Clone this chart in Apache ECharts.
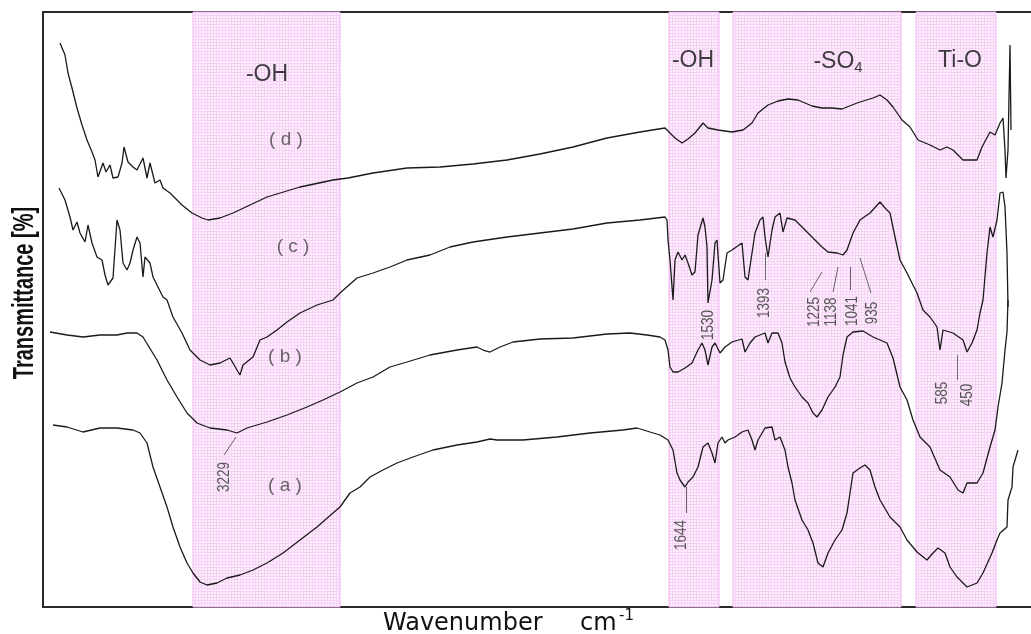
<!DOCTYPE html>
<html><head><meta charset="utf-8">
<script src="https://cdn.jsdelivr.net/npm/echarts@6/dist/echarts.min.js"></script>
<style>html,body{margin:0;padding:0;background:#fff}#c{width:1031px;height:634px}</style>
</head><body><div id="c"></div>
<script>
// x: position along the wavenumber axis (arbitrary units, high wavenumber at left); y: transmittance (a.u.)
const curveD = [[17,564],[22,552],[25,534],[29,519],[34,499],[39,482],[44,467],[49,455],[52,447],[55,430],[60,444],[63,435],[67,442],[70,429],[75,430],[79,444],[81,460],[85,445],[90,440],[94,437],[100,449],[104,429],[107,444],[112,424],[117,427],[120,419],[127,414],[132,409],[139,402],[149,394],[159,389],[165,387],[177,389],[190,394],[207,402],[224,410],[257,420],[290,427],[305,429],[330,434],[364,439],[397,440],[430,443],[464,447],[497,453],[530,460],[564,469],[597,475],[622,479],[627,474],[632,469],[639,464],[645,468],[652,474],[660,484],[665,479],[675,477],[689,475],[700,477],[709,484],[715,494],[725,502],[735,506],[745,508],[755,507],[762,504],[769,501],[779,499],[789,499],[799,498],[814,504],[830,509],[837,512],[844,507],[850,500],[859,487],[867,480],[875,467],[887,462],[897,457],[904,460],[910,457],[920,447],[934,447],[939,460],[947,475],[952,472],[957,484],[960,489],[962,457],[963,429],[965,457],[967,562],[968,477]];
const curveC = [[16,419],[22,407],[27,390],[30,377],[34,385],[37,374],[42,365],[45,382],[49,364],[54,350],[59,347],[62,332],[65,322],[70,329],[74,387],[77,377],[80,344],[84,337],[87,344],[90,357],[94,370],[97,364],[100,330],[102,350],[107,344],[110,330],[115,320],[120,310],[124,307],[130,290],[139,274],[147,257],[157,247],[167,242],[177,244],[187,249],[194,237],[197,232],[200,242],[210,250],[217,267],[224,270],[234,277],[244,285],[257,294],[274,302],[290,307],[297,314],[314,329],[330,334],[347,340],[364,347],[387,352],[407,360],[430,365],[464,370],[497,374],[530,378],[564,384],[597,387],[622,390],[624,387],[625,367],[627,347],[630,307],[632,347],[635,355],[639,347],[642,352],[645,344],[649,332],[652,335],[655,372],[660,389],[662,380],[664,360],[665,304],[669,327],[672,364],[674,367],[677,324],[680,327],[684,354],[689,357],[699,364],[702,330],[705,327],[709,354],[712,374],[717,387],[720,390],[722,370],[725,350],[729,377],[732,390],[737,394],[740,375],[744,389],[752,387],[759,380],[765,374],[772,367],[779,360],[785,355],[794,354],[800,352],[804,357],[810,374],[817,387],[827,394],[837,405],[842,399],[847,394],[852,370],[857,347],[864,334],[874,314],[880,297],[887,290],[894,280],[897,257],[900,277],[910,274],[920,267],[924,255],[929,264],[934,277],[937,294],[940,307],[944,354],[947,380],[950,370],[954,387],[957,414],[960,415],[962,400],[964,354],[965,300]];
const curveB = [[7,275],[24,272],[40,270],[57,272],[74,272],[84,274],[94,274],[100,270],[114,247],[124,227],[134,210],[144,194],[154,184],[167,179],[184,177],[194,174],[204,179],[224,185],[244,192],[264,200],[280,207],[297,215],[314,224],[330,230],[347,240],[364,245],[387,252],[414,257],[434,260],[440,257],[447,255],[457,260],[470,265],[497,268],[530,269],[564,273],[587,274],[604,272],[617,270],[622,267],[625,257],[627,240],[630,235],[635,235],[642,239],[649,244],[655,257],[659,264],[662,257],[665,242],[669,260],[672,264],[677,254],[682,260],[689,265],[699,268],[702,255],[707,264],[712,270],[722,274],[725,264],[729,274],[735,274],[739,264],[742,245],[747,229],[752,220],[759,210],[765,204],[770,194],[774,190],[779,197],[785,210],[792,220],[797,230],[800,252],[804,270],[810,275],[820,276],[830,270],[844,264],[850,249],[857,220],[864,207],[870,187],[877,170],[887,160],[897,137],[907,130],[915,117],[920,114],[924,124],[934,124],[940,134],[947,160],[952,177],[955,200],[959,224],[962,257],[964,275],[965,307]];
const curveA = [[10,182],[24,180],[40,175],[57,179],[74,179],[90,177],[97,174],[104,164],[110,140],[117,120],[124,100],[130,80],[137,60],[144,44],[150,34],[157,25],[164,22],[174,24],[184,29],[197,32],[210,37],[224,44],[240,54],[257,67],[274,80],[290,94],[297,100],[307,114],[317,120],[327,130],[340,137],[354,144],[370,150],[390,157],[414,162],[434,165],[447,168],[454,167],[480,167],[514,170],[547,174],[580,177],[594,179],[607,175],[617,172],[625,167],[630,157],[634,134],[637,127],[642,120],[645,125],[650,130],[655,140],[660,160],[665,164],[669,154],[672,144],[675,164],[679,170],[682,164],[685,167],[692,170],[699,175],[705,177],[709,167],[712,157],[715,167],[722,179],[729,180],[732,167],[737,170],[742,157],[745,140],[749,124],[752,107],[759,87],[765,77],[770,64],[775,44],[780,40],[785,54],[792,67],[799,77],[804,94],[810,134],[817,139],[822,142],[827,137],[832,120],[837,107],[847,90],[857,80],[864,67],[874,55],[884,47],[890,54],[895,59],[902,54],[907,40],[914,30],[924,20],[934,24],[940,34],[949,54],[954,67],[957,74],[964,80],[965,107],[969,120],[970,140],[975,157]];

const bandRanges = [[150,297],[626,676],[690,858],[873,953]];
const bandLabels = ['-OH','-OH','-SO{s|4}','Ti-O'];
const bandLabelPos = [[224,532],[650,546],[795,545],[917,546]];

const curveNames = ['( d )','( c )','( b )','( a )'];
const curveLabelPos = [[243,467],[250,360],[242,250],[242,121]];

const peakLabels = ['3229','1644','1530','1393','1225','1138','1041','935','585','450'];
const peakLabelPos = [[182,130],[639,72],[666,282],[722,304],[772,295],[789,295],[810,296],[830,294],[900,214],[925,212]];
const leaderLines = [[[193,170],[181,152]],[[643,120],[643,94]],[[722,354],[722,327]],[[779,335],[767,315]],[[795,340],[790,315]],[[807,340],[807,317]],[[817,349],[828,314]],[[914,252],[914,227]]];

function makePattern(){
  const cv=document.createElement('canvas'); cv.width=3; cv.height=3;
  const g=cv.getContext('2d');
  g.fillStyle='#fdf0fd'; g.fillRect(0,0,3,3);
  g.fillStyle='#f6d2f6'; g.fillRect(0,0,3,1); g.fillRect(0,0,1,3);
  return cv;
}

const chart = echarts.init(document.getElementById('c'), null, {renderer:'canvas'});
const lineStyle = {color:'#1a1a1a', width:1.3};
function curve(name, data){
  return {name, type:'line', data, symbol:'none', showSymbol:false, lineStyle, z:3, animation:false};
}
function textSeries(labels, pos, label){
  return {type:'scatter', symbolSize:0, z:5, animation:false, silent:true,
    data: labels.map((t,i)=>({name:t, value:pos[i]})),
    label: Object.assign({show:true, position:'inside', formatter:'{b}'}, label)};
}
const axisLine = {show:true, lineStyle:{color:'#2a2a2a', width:2}};
const baseGraphic = [
  {type:'text', x:25, y:293, rotation:Math.PI/2, scaleX:0.69, silent:true,
    style:{text:'Transmittance [%]', fill:'#111', font:'bold 29px "Liberation Sans", Arial, sans-serif', textAlign:'center', textVerticalAlign:'middle'}},
  {type:'text', x:383, y:624, silent:true,
    style:{text:'Wavenumber', fill:'#111', font:'24px "DejaVu Sans", sans-serif', textAlign:'left', textVerticalAlign:'middle'}},
  {type:'text', x:580, y:624, silent:true,
    style:{text:'cm', fill:'#111', font:'24px "DejaVu Sans", sans-serif', textAlign:'left', textVerticalAlign:'middle'}},
  {type:'text', x:619, y:616, silent:true,
    style:{text:'-1', fill:'#111', font:'15px "DejaVu Sans", sans-serif', textAlign:'left', textVerticalAlign:'middle'}}
];
chart.setOption({
  backgroundColor:'#fff',
  animation:false,
  grid:{left:43, right:0, top:12, bottom:27},
  xAxis:[
    {type:'value', min:0, max:988, axisLine, axisTick:{show:false}, axisLabel:{show:false}, splitLine:{show:false}},
    {type:'value', position:'top', min:0, max:988, axisLine, axisTick:{show:false}, axisLabel:{show:false}, splitLine:{show:false}}
  ],
  yAxis:{type:'value', min:0, max:595, axisLine, axisTick:{show:false}, axisLabel:{show:false}, splitLine:{show:false}},
  series:[
    {type:'line', data:[], z:1, silent:true,
      markArea:{silent:true, itemStyle:{color:{image:makePattern(), repeat:'repeat'}, borderColor:'#f2b6f2', borderWidth:1},
        data: bandRanges.map(r=>[{xAxis:r[0]},{xAxis:r[1]}])}},
    curve('(a)', curveA), curve('(b)', curveB), curve('(c)', curveC), curve('(d)', curveD),
    {type:'line', data:[], z:4, silent:true,
      markLine:{silent:true, symbol:'none', animation:false, label:{show:false}, lineStyle:{color:'#666', width:1, type:'solid'},
        data: leaderLines.map(l=>[{coord:l[0]},{coord:l[1]}])}},
    textSeries(bandLabels, bandLabelPos, {fontFamily:'Liberation Sans, Arial, sans-serif', fontSize:23, color:'#111',
      rich:{s:{fontFamily:'Liberation Sans, Arial, sans-serif', fontSize:15, color:'#111', verticalAlign:'bottom', padding:[0,0,-2,0]}}}),
    textSeries(curveNames, curveLabelPos, {fontFamily:'Liberation Sans, Arial, sans-serif', fontSize:19, color:'#444'})
  ],
  graphic: baseGraphic
});
// peak labels: condensed rotated text placed through the chart's own coordinate conversion
const peakGraphic = peakLabels.map((t,i)=>{
  const p = chart.convertToPixel({gridIndex:0}, peakLabelPos[i]);
  return {type:'text', x:p[0], y:p[1], rotation:Math.PI/2, scaleX:0.84, silent:true, z:10,
    style:{text:t, fill:'#555', font:'16px "Liberation Sans", Arial, sans-serif', textAlign:'center', textVerticalAlign:'middle'}};
});
chart.setOption({graphic: baseGraphic.concat(peakGraphic)}, {replaceMerge:['graphic']});
</script></body></html>
